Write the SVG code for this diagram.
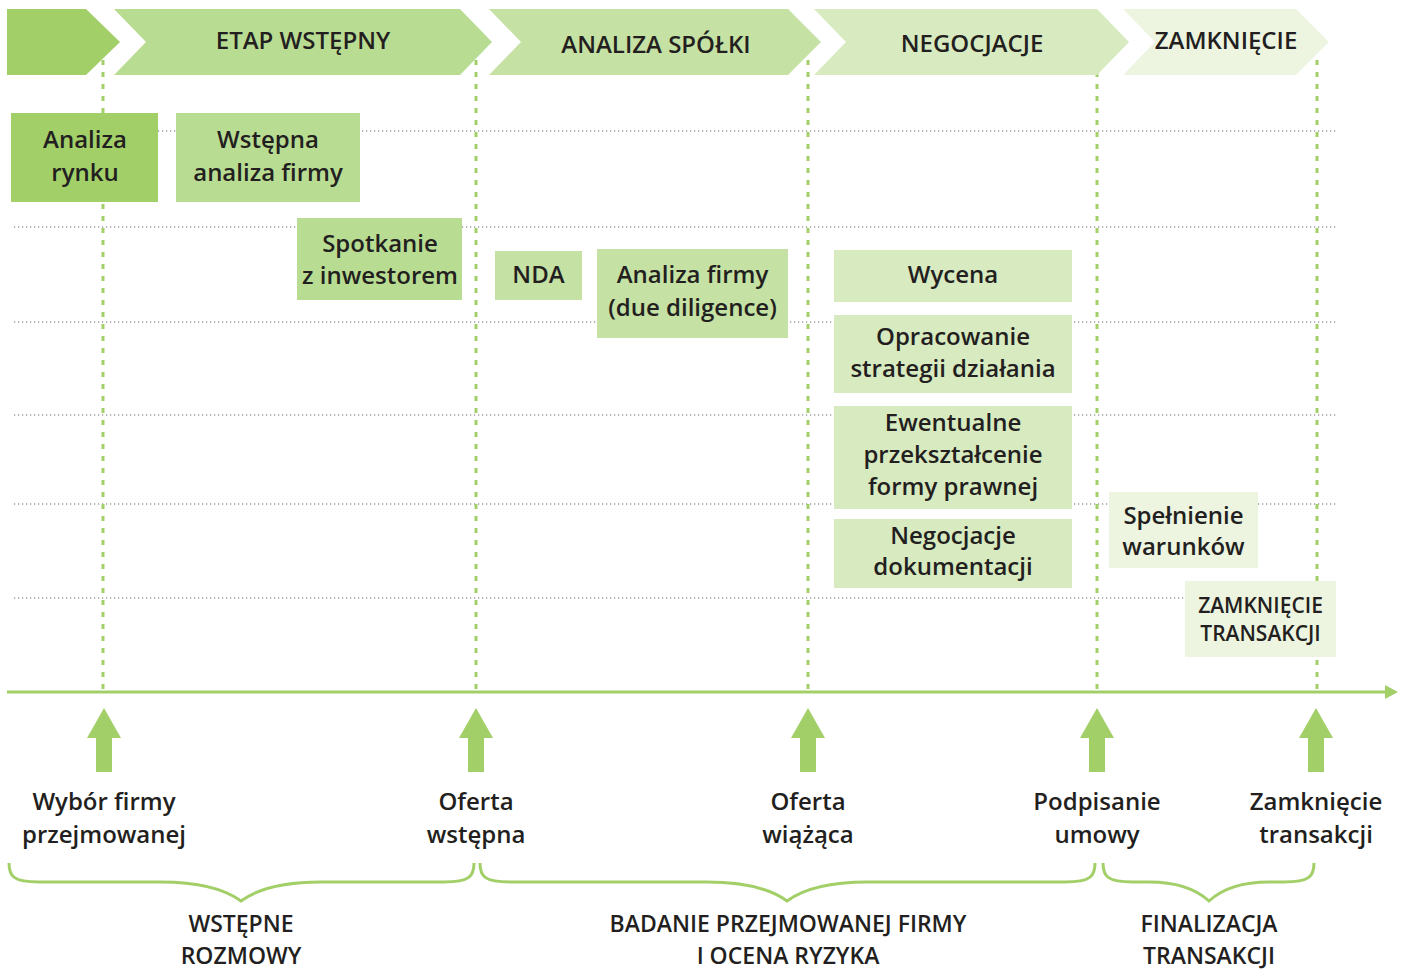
<svg xmlns="http://www.w3.org/2000/svg" width="1404" height="970" viewBox="0 0 1404 970">
<style>
text{font-family:"Open Sans","Liberation Sans",sans-serif;font-weight:600;fill:#231f20;text-anchor:middle}
.t{font-size:24px}
.b{font-size:23px}
.s{font-size:21px}
.c1{fill:#a3cf69}
.c2{fill:#b9dc93}
.c3{fill:#c5e1a3}
.c4{fill:#d8eac0}
.c5{fill:#edf5e1}
.vd{stroke:#a3cf69;stroke-width:3;stroke-dasharray:5 7;fill:none}
.hd{stroke:#6a6a6a;stroke-width:1.2;stroke-dasharray:1.2 2.8;fill:none}
.br{stroke:#a3cf69;stroke-width:3;fill:none}
.up{fill:#a3cf69}
</style>
<rect width="1404" height="970" fill="#ffffff"/>
<g id="grid">
<line class="hd" x1="14" y1="131" x2="1336" y2="131"/>
<line class="hd" x1="14" y1="227" x2="1336" y2="227"/>
<line class="hd" x1="14" y1="322" x2="1336" y2="322"/>
<line class="hd" x1="14" y1="415" x2="1336" y2="415"/>
<line class="hd" x1="14" y1="504" x2="1336" y2="504"/>
<line class="hd" x1="14" y1="598" x2="1336" y2="598"/>
<line class="vd" x1="103" y1="60" x2="103" y2="689"/>
<line class="vd" x1="476" y1="60" x2="476" y2="689"/>
<line class="vd" x1="808" y1="60" x2="808" y2="689"/>
<line class="vd" x1="1097" y1="60" x2="1097" y2="689"/>
<line class="vd" x1="1317" y1="60" x2="1317" y2="689"/>
</g>
<g id="phases">
<g id="phase-start"><polygon class="c1" points="7,9 86,9 120,42 86,75 7,75"/></g>
<g id="phase-etap"><polygon class="c2" points="114,9 460,9 492,42 460,75 114,75 146,42"/><text class="t" x="303" y="49">ETAP WSTĘPNY</text></g>
<g id="phase-analiza"><polygon class="c3" points="489,9 788,9 821,42 788,75 489,75 521,42"/><text class="t" x="656" y="53">ANALIZA SPÓŁKI</text></g>
<g id="phase-negocjacje"><polygon class="c4" points="814,9 1097,9 1129,42 1097,75 814,75 846,42"/><text class="t" x="972" y="52">NEGOCJACJE</text></g>
<g id="phase-zamkniecie"><polygon class="c5" points="1123,9 1296,9 1329,42 1296,75 1123,75 1155,42"/><text class="t" x="1226" y="49">ZAMKNIĘCIE</text></g>
</g>
<g id="n-analiza-rynku"><rect class="c1" x="11" y="113" width="147" height="89"/><text class="t" x="85" y="148">Analiza</text><text class="t" x="85" y="181">rynku</text></g>
<g id="n-wstepna-analiza"><rect class="c2" x="176" y="113" width="184" height="89"/><text class="t" x="268" y="148">Wstępna</text><text class="t" x="268" y="181">analiza firmy</text></g>
<g id="n-spotkanie"><rect class="c2" x="297" y="218" width="165" height="82"/><text class="t" x="380" y="252">Spotkanie</text><text class="t" x="380" y="284">z inwestorem</text></g>
<g id="n-nda"><rect class="c3" x="495" y="251" width="87" height="49"/><text class="t" x="538.5" y="283">NDA</text></g>
<g id="n-due-diligence"><rect class="c3" x="597" y="249" width="191" height="89"/><text class="t" x="692.5" y="283">Analiza firmy</text><text class="t" x="692.5" y="316">(due diligence)</text></g>
<g id="n-wycena"><rect class="c4" x="834" y="250" width="238" height="52"/><text class="t" x="953" y="283">Wycena</text></g>
<g id="n-opracowanie"><rect class="c4" x="834" y="315" width="238" height="78"/><text class="t" x="953" y="345">Opracowanie</text><text class="t" x="953" y="377">strategii działania</text></g>
<g id="n-ewentualne"><rect class="c4" x="834" y="406" width="238" height="103"/><text class="t" x="953" y="431">Ewentualne</text><text class="t" x="953" y="463">przekształcenie</text><text class="t" x="953" y="495">formy prawnej</text></g>
<g id="n-negocjacje"><rect class="c4" x="834" y="519" width="238" height="69"/><text class="t" x="953" y="544">Negocjacje</text><text class="t" x="953" y="575">dokumentacji</text></g>
<g id="n-spelnienie"><rect class="c5" x="1109" y="492" width="149" height="76"/><text class="t" x="1183.5" y="524">Spełnienie</text><text class="t" x="1183.5" y="555">warunków</text></g>
<g id="n-zamkniecie-transakcji"><rect class="c5" x="1185" y="581" width="151" height="76"/><text class="s" x="1260.5" y="613">ZAMKNIĘCIE</text><text class="s" x="1260.5" y="641">TRANSAKCJI</text></g>
<g id="connectors">
<line x1="7" y1="692" x2="1387" y2="692" stroke="#a3cf69" stroke-width="3"/>
<polygon class="up" points="1385,685 1398,692 1385,699"/>
<polygon class="up" points="104,708 121,738 112,738 112,772 96,772 96,738 87,738"/>
<polygon class="up" points="476,708 493,738 484,738 484,772 468,772 468,738 459,738"/>
<polygon class="up" points="808,708 825,738 816,738 816,772 800,772 800,738 791,738"/>
<polygon class="up" points="1097,708 1114,738 1105,738 1105,772 1089,772 1089,738 1080,738"/>
<polygon class="up" points="1316,708 1333,738 1324,738 1324,772 1308,772 1308,738 1299,738"/>
<path class="br" d="M9 863 C9 876 13 882 39 882 L161 882 C201 882 226 890 241 901 C256 890 281 882 321 882 L444 882 C470 882 474 876 474 863"/>
<path class="br" d="M480 863 C480 876 484 882 510 882 L707 882 C747 882 772 890 787 901 C802 890 827 882 867 882 L1065 882 C1091 882 1095 876 1095 863"/>
<path class="br" d="M1103 863 C1103 876 1107 882 1133 882 L1149 882 C1179 882 1197 890 1209 901 C1221 890 1239 882 1269 882 L1284 882 C1310 882 1314 876 1314 863"/>
</g>
<g id="milestones">
<g id="m-wybor"><text class="t" x="104" y="810">Wybór firmy</text><text class="t" x="104" y="843">przejmowanej</text></g>
<g id="m-oferta-wstepna"><text class="t" x="476" y="810">Oferta</text><text class="t" x="476" y="843">wstępna</text></g>
<g id="m-oferta-wiazaca"><text class="t" x="808" y="810">Oferta</text><text class="t" x="808" y="843">wiążąca</text></g>
<g id="m-podpisanie"><text class="t" x="1097" y="810">Podpisanie</text><text class="t" x="1097" y="843">umowy</text></g>
<g id="m-zamkniecie"><text class="t" x="1316" y="810">Zamknięcie</text><text class="t" x="1316" y="843">transakcji</text></g>
</g>
<g id="stages">
<g id="s-wstepne"><text class="b" x="241" y="932">WSTĘPNE</text><text class="b" x="241" y="964">ROZMOWY</text></g>
<g id="s-badanie"><text class="b" x="788" y="932">BADANIE PRZEJMOWANEJ FIRMY</text><text class="b" x="788" y="964">I OCENA RYZYKA</text></g>
<g id="s-finalizacja"><text class="b" x="1209" y="932">FINALIZACJA</text><text class="b" x="1209" y="964">TRANSAKCJI</text></g>
</g>
</svg>
